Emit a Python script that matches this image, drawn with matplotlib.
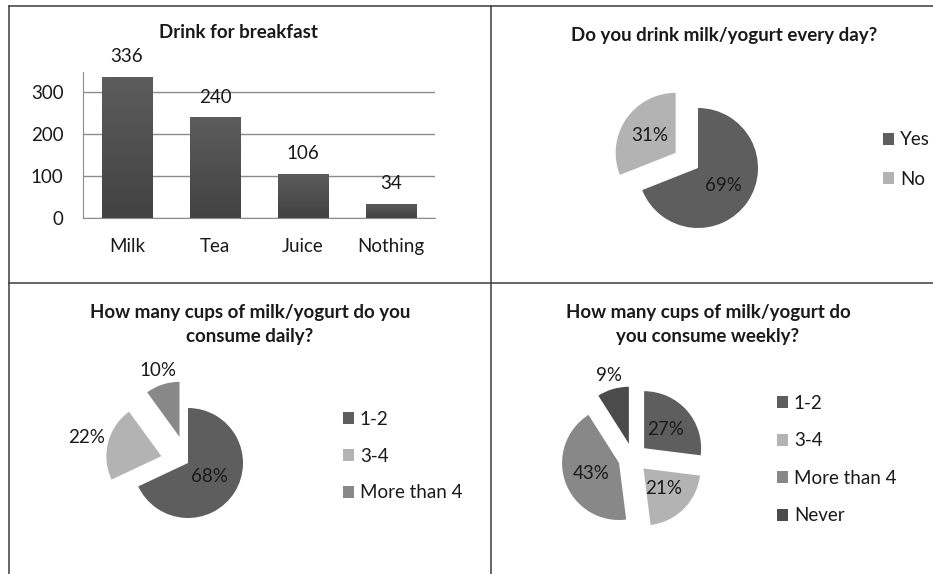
import matplotlib
matplotlib.use("Agg")
import matplotlib.pyplot as plt
import numpy as np
from matplotlib.patches import Patch
from matplotlib.lines import Line2D
from matplotlib.colors import LinearSegmentedColormap

plt.rcParams['font.family'] = ['Lato', 'DejaVu Sans']

# ---------------- data ----------------
drink_categories = ["Milk", "Tea", "Juice", "Nothing"]
drink_values = [336, 240, 106, 34]
drink_yticks = [0, 100, 200, 300]

daily_every_labels = ["Yes", "No"]
daily_every_values = [69, 31]

daily_cups_labels = ["1-2", "3-4", "More than 4"]
daily_cups_values = [68, 22, 10]

weekly_cups_labels = ["1-2", "3-4", "More than 4", "Never"]
weekly_cups_values = [27, 21, 43, 9]

titles = ["Drink for breakfast",
          "Do you drink milk/yogurt every day?",
          "How many cups of milk/yogurt do you\nconsume daily?",
          "How many cups of milk/yogurt do\nyou consume weekly?"]

# ---------------- figure ----------------
W, H = 933, 574
fig = plt.figure(figsize=(W / 100, H / 100), dpi=100)
fig.patch.set_facecolor("white")

def fx(x):
    return x / W

def fy(y):
    return 1 - y / H

FS = 13.5
TXT = "#1a1a1a"

# table lines
line_c = "#3c3c3c"
for (x0, y0, x1, y1) in [(9, 6, W, 6), (9, 6, 9, H), (491, 6, 491, H), (9, 283, W, 283)]:
    fig.add_artist(Line2D([fx(x0), fx(x1)], [fy(y0), fy(y1)], color=line_c, lw=1.1,
                          transform=fig.transFigure))

# ---------------- bar chart ----------------
ax = fig.add_axes([fx(83), fy(218), fx(435) - fx(83), fy(72) - fy(218)])
xpos = np.arange(len(drink_categories))
bars = ax.bar(xpos, drink_values, width=0.57, color="#505050", zorder=2)
cmap = LinearSegmentedColormap.from_list("g", ["#424242", "#5c5c5c"])
grad = np.linspace(0, 1, 100).reshape(-1, 1)
for b in bars:
    im = ax.imshow(grad, extent=[b.get_x(), b.get_x() + b.get_width(), 0, b.get_height()],
                   origin="lower", aspect="auto", cmap=cmap, zorder=3)
    im.set_clip_path(b)
ax.set_xlim(-0.5, len(drink_categories) - 0.5)
ax.set_ylim(0, 348)
ax.set_yticks(drink_yticks)
ax.set_yticklabels([str(v) for v in drink_yticks])
ax.set_xticks(xpos)
ax.set_xticklabels(drink_categories)
ax.grid(axis="y", color="#8c8c8c", lw=1, zorder=1)
ax.set_axisbelow(True)
for s in ["top", "right"]:
    ax.spines[s].set_visible(False)
for s in ["left", "bottom"]:
    ax.spines[s].set_color("#8c8c8c")
    ax.spines[s].set_zorder(4)
ax.tick_params(axis="y", length=0, pad=14, labelsize=FS, labelcolor=TXT)
ax.tick_params(axis="x", length=0, pad=14.5, labelsize=FS, labelcolor=TXT)
for b, v in zip(bars, drink_values):
    ax.annotate(str(v), (b.get_x() + b.get_width() / 2, b.get_height()),
                xytext=(0, 14.5), textcoords="offset points", ha="center", va="center",
                fontsize=FS, color=TXT)
fig.text(fx(238), fy(33), titles[0], ha="center", va="center", fontsize=FS,
         fontweight="bold", color=TXT)

# ---------------- pies ----------------
def pie_panel(cx, cy, r, values, colors, explode, label_dist, legend_labels,
              leg_x, leg_y, title, tx, ty, spacing):
    R = 110
    pax = fig.add_axes([fx(cx - R), fy(cy + R), 2 * R / W, 2 * R / H])
    L = R / r
    wedges, _ = pax.pie(values, colors=colors, explode=explode, startangle=90,
                        counterclock=False, radius=1,
                        wedgeprops=dict(linewidth=0))
    pax.set_xlim(-L, L)
    pax.set_ylim(-L, L)
    pax.set_aspect("equal")
    pax.axis("off")
    for w, v, d in zip(wedges, values, label_dist):
        th = np.deg2rad((w.theta1 + w.theta2) / 2)
        c = w.center
        pax.text(c[0] + d * np.cos(th), c[1] + d * np.sin(th), f"{v}%",
                 ha="center", va="center", fontsize=FS, color=TXT)
    handles = [Patch(facecolor=col, edgecolor="none") for col in colors]
    fig.legend(handles, legend_labels, loc="center left",
               bbox_to_anchor=(fx(leg_x), fy(leg_y)), bbox_transform=fig.transFigure,
               frameon=False, fontsize=FS, handlelength=0.6, handleheight=0.6,
               handletextpad=0.3, labelspacing=spacing, borderpad=0, borderaxespad=0,
               labelcolor=TXT)
    fig.text(fx(tx), fy(ty), title, ha="center", va="center", fontsize=FS,
             fontweight="bold", color=TXT, linespacing=1.45, multialignment="center")

DARK = "#5e5e5e"
LIGHT = "#b3b3b3"
MED = "#888888"
DARKER = "#4b4b4b"

pie_panel(698, 168, 60, daily_every_values, [DARK, LIGHT], [0, 0.45], [0.52, 0.52],
          daily_every_labels, 883, 159.5, titles[1], 724, 35, 1.2)

pie_panel(188, 463, 55, daily_cups_values, [DARK, LIGHT, MED], [0, 0.5, 0.5],
          [0.47, 1.4, 1.26], daily_cups_labels, 343, 456, titles[2], 250, 324.5, 1.05)

pie_panel(633, 458, 57, weekly_cups_values, [DARK, LIGHT, MED, DARKER],
          [0.26, 0.26, 0.26, 0.26], [0.5, 0.5, 0.52, 1.25], weekly_cups_labels,
          777, 459.5, titles[3], 708, 324.5, 1.1)

fig.savefig("out.png", dpi=100, facecolor="white")
